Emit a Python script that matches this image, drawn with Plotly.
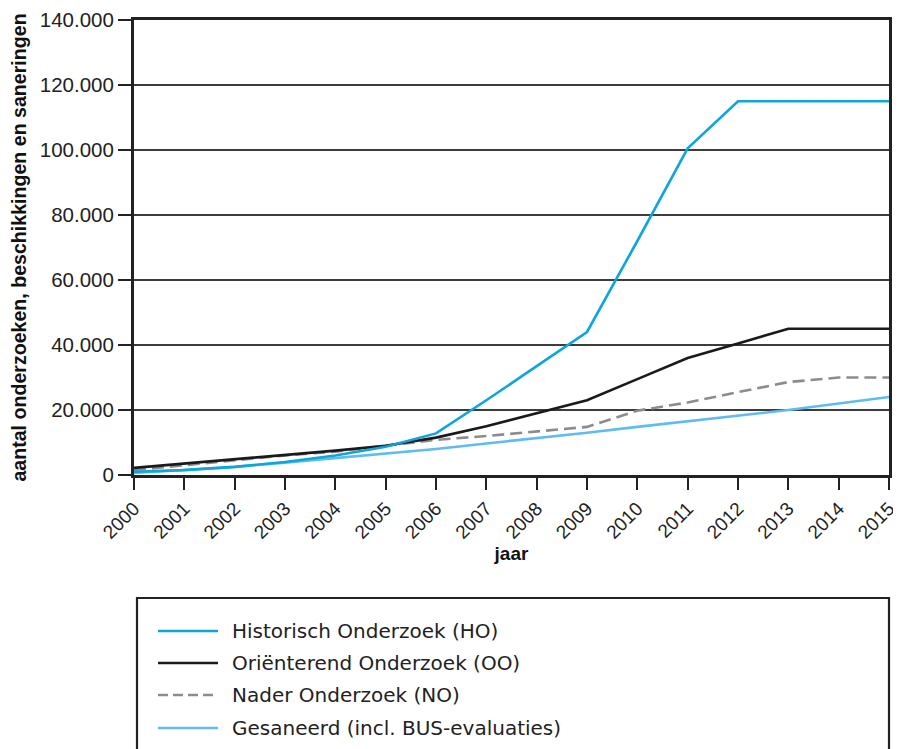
import plotly.graph_objects as go

years = list(range(2000, 2016))
ho = [1000, 1500, 2500, 4000, 6000, 8700, 12800, 23000, 33500, 44000, 72000, 100500, 115000, 115000, 115000, 115000]
oo = [2200, 3500, 4800, 6000, 7500, 9000, 11500, 15000, 19000, 23000, 29500, 36000, 40500, 45000, 45000, 45000]
no = [1500, 3000, 4500, 6000, 7200, 9000, 10800, 12000, 13300, 14800, 19800, 22300, 25500, 28600, 30000, 30000]
ges = [600, 1500, 2500, 3800, 5200, 6700, 8000, 9700, 11300, 13000, 14800, 16500, 18300, 20000, 22000, 24000]

names = ["Historisch Onderzoek (HO)", "Oriënterend Onderzoek (OO)", "Nader Onderzoek (NO)", "Gesaneerd (incl. BUS-evaluaties)"]
colors = ["#0ea5df", "#1a1a1a", "#8c8c8c", "#5cbdee"]
dashes = ["solid", "solid", "12px,6px", "solid"]
series = [ho, oo, no, ges]

yticks = [0, 20000, 40000, 60000, 80000, 100000, 120000, 140000]
ytick_text = ["0", "20.000", "40.000", "60.000", "80.000", "100.000", "120.000", "140.000"]

FONT = "Liberation Sans"
LFONT = "DejaVu Sans"
OFF = 8  # page body margin
W, H = 901 - OFF, 749 - OFF
# plot area in screen pixels: x 134..889, y 20..475
L, T = 134 - OFF, 20 - OFF
R = W - (889 - OFF)
B = H - (475 - OFF)
PW, PH = W - L - R, H - T - B

def px(x):
    return (x - OFF - L) / PW

def py(y):
    return (T + PH - (y - OFF)) / PH

fig = go.Figure()
for i in [3, 2, 1, 0]:
    fig.add_trace(go.Scatter(x=years, y=series[i], mode="lines", name=names[i],
                             line=dict(color=colors[i], width=2.6, dash=dashes[i]),
                             showlegend=False))

fig.update_layout(
    width=W, height=H,
    margin=dict(l=L, r=R, t=T, b=B, autoexpand=False),
    paper_bgcolor="white", plot_bgcolor="white",
    font=dict(family=FONT, color="#222222"),
)
fig.update_xaxes(
    range=[2000, 2015], tickmode="array", tickvals=years, ticktext=[str(y) for y in years],
    tickangle=-45, tickfont=dict(size=19, family=FONT, color="#222222"),
    ticks="outside", ticklen=12, tickwidth=2, tickcolor="#222222",
    showline=True, linecolor="#222222", linewidth=3, mirror=True,
    showgrid=False, zeroline=False, automargin=False,
    title=dict(text="<b>jaar</b>", font=dict(size=19, family=FONT, color="#111111"), standoff=5),
)
fig.update_yaxes(
    range=[0, 140000], tickmode="array", tickvals=yticks, ticktext=ytick_text,
    tickfont=dict(size=20.5, family=FONT, color="#222222"),
    ticks="outside", ticklen=13, tickwidth=2, tickcolor="#222222",
    showline=True, linecolor="#222222", linewidth=3, mirror=True,
    showgrid=True, gridcolor="#3c3c3c", gridwidth=1.6, zeroline=False, automargin=False,
    title=dict(text="<b>aantal onderzoeken, beschikkingen en saneringen</b>",
               font=dict(size=19.6, family=FONT, color="#111111"), standoff=12),
)

# legend box (extends beyond the bottom edge)
fig.add_shape(type="path", xref="paper", yref="paper",
              path=f"M {px(137)} {py(770)} L {px(137)} {py(598)} L {px(889)} {py(598)} L {px(889)} {py(770)}",
              line=dict(color="#222222", width=2.2))
rows = [631, 663, 695, 728]
legend_dashes = ["solid", "solid", "10px,5px", "solid"]
for i in range(4):
    fig.add_shape(type="line", xref="paper", yref="paper",
                  x0=px(158), x1=px(218), y0=py(rows[i]), y1=py(rows[i]),
                  line=dict(color=colors[i], width=2.6, dash=legend_dashes[i]))
    fig.add_annotation(xref="paper", yref="paper", x=px(230), y=py(rows[i]),
                       text=names[i], showarrow=False, xanchor="left", yanchor="middle",
                       font=dict(size=20, family=LFONT, color="#222222"))

fig.write_html("out.html")
